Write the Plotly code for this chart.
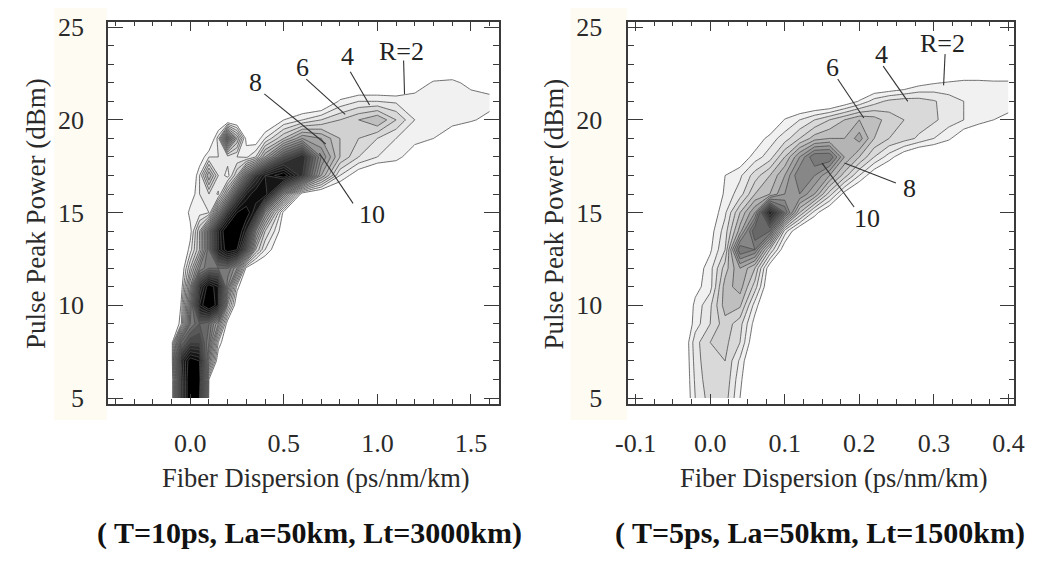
import plotly.graph_objects as go

# ---------------- data ----------------
# Left panel (T=10ps, La=50km, Lt=3000km)
left_x = [-0.15, -0.1, -0.05, 0.0, 0.05, 0.1, 0.15, 0.2, 0.25, 0.3, 0.35, 0.4,
          0.5, 0.6, 0.7, 0.8, 0.9, 1.0, 1.1, 1.2, 1.3, 1.4, 1.5, 1.6]
left_y = [5, 6, 7, 8, 9, 10, 11, 12, 13, 14, 15, 16, 17, 18, 19, 20, 21, 22, 23]
left_z = [
    [0, 0, 16, 22, 20, 1.5, 0, 0, 0, 0, 0, 0, 0, 0, 0, 0, 0, 0, 0, 0, 0, 0, 0, 0],
    [0, 0, 16, 22, 21, 2, 0, 0, 0, 0, 0, 0, 0, 0, 0, 0, 0, 0, 0, 0, 0, 0, 0, 0],
    [0, 0.5, 17, 21, 20, 8, 0.5, 0, 0, 0, 0, 0, 0, 0, 0, 0, 0, 0, 0, 0, 0, 0, 0, 0],
    [0, 1, 12, 15, 15, 11, 3, 0, 0, 0, 0, 0, 0, 0, 0, 0, 0, 0, 0, 0, 0, 0, 0, 0],
    [0, 0, 2.5, 11, 13, 12, 8, 1, 0, 0, 0, 0, 0, 0, 0, 0, 0, 0, 0, 0, 0, 0, 0, 0],
    [0, 0, 2, 10, 19, 22, 19, 6, 0.5, 0, 0, 0, 0, 0, 0, 0, 0, 0, 0, 0, 0, 0, 0, 0],
    [0, 0, 1, 8, 17, 21, 19, 10, 2.5, 0, 0, 0, 0, 0, 0, 0, 0, 0, 0, 0, 0, 0, 0, 0],
    [0, 0, 0.5, 5, 10, 12, 12, 12, 9, 1.5, 0, 0, 0, 0, 0, 0, 0, 0, 0, 0, 0, 0, 0, 0],
    [0, 0, 0, 2.5, 6, 12, 18, 21, 20, 14, 6, 3, 0, 0, 0, 0, 0, 0, 0, 0, 0, 0, 0, 0],
    [0, 0, 0, 1.5, 6, 12, 18, 22, 22, 18, 10, 5, 1, 0, 0, 0, 0, 0, 0, 0, 0, 0, 0, 0],
    [0, 0, 0, 2.5, 2.5, 3, 10, 16, 20, 21, 18, 10, 1.5, 0, 0, 0, 0, 0, 0, 0, 0, 0, 0, 0],
    [0, 0, 0, 1, 3, 4, 2.8, 8, 14, 18, 20, 20, 10, 1, 0, 0, 0, 0, 0, 0, 0, 0, 0, 0],
    [0, 0, 0, 0, 3, 8, 4, 2.5, 6, 12, 16, 19, 21, 16, 8, 3, 1, 0, 0, 0, 0, 0, 0, 0],
    [0, 0, 0, 0, 1, 3, 3, 3.5, 3, 2.8, 4, 8, 14, 17, 10, 6, 4, 3, 2.5, 1, 0, 0, 0, 0],
    [0, 0, 0, 0, 0, 0, 3.5, 13, 7, 1.5, 1, 3, 6, 9, 8, 6, 5, 4, 3, 2.5, 2, 1, 0, 0],
    [0, 0, 0, 0, 0, 0, 0, 0, 0, 0, 0, 0, 2, 3, 4, 5, 6, 7, 5, 3, 2.8, 2.5, 2.2, 1.5],
    [0, 0, 0, 0, 0, 0, 0, 0, 0, 0, 0, 0, 0, 0, 0, 2.2, 3, 3, 2.8, 2.8, 3, 3, 2.8, 2.6],
    [0, 0, 0, 0, 0, 0, 0, 0, 0, 0, 0, 0, 0, 0, 0, 0, 0, 0, 0, 1, 2.2, 2.4, 1.5, 1],
    [0, 0, 0, 0, 0, 0, 0, 0, 0, 0, 0, 0, 0, 0, 0, 0, 0, 0, 0, 0, 0, 0, 0, 0],
]

# Right panel (T=5ps, La=50km, Lt=1500km)
right_x = [-0.04, -0.02, 0.0, 0.02, 0.04, 0.06, 0.08, 0.10, 0.12, 0.14, 0.16, 0.18,
           0.20, 0.22, 0.24, 0.26, 0.28, 0.30, 0.32, 0.34, 0.36, 0.38, 0.40]
right_y = [5, 6, 7, 8, 9, 10, 11, 12, 13, 14, 15, 16, 17, 18, 19, 20, 21, 22, 23]
right_z = [
    [0, 3, 4.5, 4.5, 2, 0, 0, 0, 0, 0, 0, 0, 0, 0, 0, 0, 0, 0, 0, 0, 0, 0, 0],
    [0, 3.2, 4.8, 4.8, 2.3, 0, 0, 0, 0, 0, 0, 0, 0, 0, 0, 0, 0, 0, 0, 0, 0, 0, 0],
    [0, 3.4, 5, 5, 2.8, 0, 0, 0, 0, 0, 0, 0, 0, 0, 0, 0, 0, 0, 0, 0, 0, 0, 0],
    [0, 3.6, 5, 5.3, 4, 0.8, 0, 0, 0, 0, 0, 0, 0, 0, 0, 0, 0, 0, 0, 0, 0, 0, 0],
    [0, 2.5, 4, 5.6, 4.4, 1.5, 0, 0, 0, 0, 0, 0, 0, 0, 0, 0, 0, 0, 0, 0, 0, 0, 0],
    [0, 2.3, 3.8, 6.5, 6.2, 2.5, 0, 0, 0, 0, 0, 0, 0, 0, 0, 0, 0, 0, 0, 0, 0, 0, 0],
    [0, 1.6, 2.6, 6.5, 7.5, 4.5, 0.5, 0, 0, 0, 0, 0, 0, 0, 0, 0, 0, 0, 0, 0, 0, 0, 0],
    [0, 1.2, 2.6, 5.5, 8, 6, 1, 0, 0, 0, 0, 0, 0, 0, 0, 0, 0, 0, 0, 0, 0, 0, 0],
    [0, 0, 1.8, 4, 12, 11, 5, 1, 0, 0, 0, 0, 0, 0, 0, 0, 0, 0, 0, 0, 0, 0, 0],
    [0, 0, 1.5, 3.5, 7.5, 13, 12, 3.5, 0.5, 0, 0, 0, 0, 0, 0, 0, 0, 0, 0, 0, 0, 0, 0],
    [0, 0, 1, 2.8, 6, 9, 18, 12, 6, 2.5, 0.5, 0, 0, 0, 0, 0, 0, 0, 0, 0, 0, 0, 0],
    [0, 0, 0, 2.3, 3.5, 6, 7, 9, 10, 8, 4.5, 1.5, 0, 0, 0, 0, 0, 0, 0, 0, 0, 0, 0],
    [0, 0, 0, 2, 2.8, 4.5, 6, 8, 11, 10, 8, 5.5, 3, 1, 0, 0, 0, 0, 0, 0, 0, 0, 0],
    [0, 0, 0, 0, 1, 2.5, 3.5, 6, 9, 12, 12, 8, 6, 4, 2.5, 1, 0, 0, 0, 0, 0, 0, 0],
    [0, 0, 0, 0, 0, 1, 2.5, 3.5, 5, 6.5, 7, 7, 8.5, 6, 5, 4.5, 3.8, 3, 2.2, 1, 0, 0, 0],
    [0, 0, 0, 0, 0, 0, 0, 2.1, 3, 4, 5, 6, 7, 6.5, 5.5, 5, 4.6, 4.2, 3.5, 3, 2.6, 2, 1.5],
    [0, 0, 0, 0, 0, 0, 0, 0, 0, 0, 0, 1, 2.1, 3.5, 4.3, 4.6, 4.5, 4.1, 3.5, 3, 3, 2.8, 2.8],
    [0, 0, 0, 0, 0, 0, 0, 0, 0, 0, 0, 0, 0, 0, 0, 0.5, 1.5, 1.9, 2.1, 2.3, 2.3, 2.2, 2.2],
    [0, 0, 0, 0, 0, 0, 0, 0, 0, 0, 0, 0, 0, 0, 0, 0, 0, 0, 0, 0, 0, 0, 0],
]

contour_labels = ["R=2", "4", "6", "8", "10"]
y_ticks = [5, 10, 15, 20, 25]
left_x_ticks = [0.0, 0.5, 1.0, 1.5]
left_x_ticktext = ["0.0", "0.5", "1.0", "1.5"]
right_x_ticks = [-0.1, 0.0, 0.1, 0.2, 0.3, 0.4]
right_x_ticktext = ["-0.1", "0.0", "0.1", "0.2", "0.3", "0.4"]
x_title = "Fiber Dispersion (ps/nm/km)"
y_title = "Pulse Peak Power (dBm)"
captions = ["( T=10ps, La=50km, Lt=3000km)", "( T=5ps, La=50km, Lt=1500km)"]

# ---------------- styling ----------------
band_colors = ["#ffffff", "#f1f1f1", "#e8e8e8", "#d9d9d9", "#d1d1d1", "#bfbfbf",
               "#b4b4b4", "#a3a3a3", "#989898", "#878787", "#7a7a7a", "#686868",
               "#595959", "#4a4a4a", "#3c3c3c", "#2e2e2e", "#222222", "#161616",
               "#0c0c0c", "#000000"]
nb = len(band_colors) - 1
colorscale = [[i / nb, c] for i, c in enumerate(band_colors)]

SERIF = "Liberation Serif"
W, H = 1044, 561
fig = go.Figure()

common = dict(autocontour=False,
              contours=dict(start=2, end=20, size=1, coloring="fill", showlines=True),
              colorscale=colorscale, showscale=False,
              line=dict(color="#4d4d4d", width=0.8, smoothing=0),
              hoverinfo="skip")
fig.add_trace(go.Contour(x=left_x, y=left_y, z=left_z, xaxis="x", yaxis="y", **common))
fig.add_trace(go.Contour(x=right_x, y=right_y, z=right_z, xaxis="x2", yaxis="y2", **common))

axcol = "#3a3a3a"
base = dict(showline=True, linecolor=axcol, linewidth=1.5, mirror="ticks",
            ticks="inside", tickcolor=axcol, tickwidth=1.2, showgrid=False,
            zeroline=False, tickfont=dict(family=SERIF, size=26, color="#2a2a2a"))

ydom = [1 - 408 / H, 1 - 14 / H]
fig.update_layout(
    width=W, height=H, margin=dict(l=0, r=0, t=0, b=0),
    paper_bgcolor="white", plot_bgcolor="white", showlegend=False,
    xaxis=dict(base, domain=[97 / W, 497 / W], range=[-0.44, 1.65],
               tickmode="array", tickvals=left_x_ticks, ticktext=left_x_ticktext,
               ticklen=10, ticklabelstandoff=15,
               minor=dict(tickmode="linear", tick0=0, dtick=0.1, ticks="inside",
                          ticklen=5, tickcolor=axcol)),
    yaxis=dict(base, domain=ydom, range=[4.7, 25.3], tickmode="array",
               tickvals=y_ticks, ticklen=15, ticklabelstandoff=17,
               minor=dict(tickmode="linear", tick0=0, dtick=1, ticks="inside",
                          ticklen=6, tickcolor=axcol)),
    xaxis2=dict(base, domain=[629 / W, 1024 / W], range=[-0.11, 0.408], anchor="y2",
                tickmode="array", tickvals=right_x_ticks, ticktext=right_x_ticktext,
                ticklen=10, ticklabelstandoff=15,
                minor=dict(tickmode="linear", tick0=0, dtick=0.025, ticks="inside",
                           ticklen=5, tickcolor=axcol)),
    yaxis2=dict(base, domain=ydom, range=[4.7, 25.3], anchor="x2", tickmode="array",
                tickvals=y_ticks, ticklen=15, ticklabelstandoff=19,
                minor=dict(tickmode="linear", tick0=0, dtick=1, ticks="inside",
                           ticklen=6, tickcolor=axcol)),
)

# faint cream strips behind the y-axis labels (scan tint)
shapes = []
for x0, x1 in [(42, 96), (570, 628)]:
    shapes.append(dict(type="rect", xref="paper", yref="paper", x0=x0 / W, x1=x1 / W,
                       y0=1 - 425 / H, y1=1, fillcolor="#fefbf3", line=dict(width=0),
                       layer="below"))

annotations = []
# axis titles
for cx in [310, 839]:
    annotations.append(dict(text=x_title, xref="paper", yref="paper", x=cx / W, y=1 - 485 / H,
                            showarrow=False, font=dict(family=SERIF, size=26.5, color="#2a2a2a"),
                            xanchor="center", yanchor="middle"))
for cx in [23, 553]:
    annotations.append(dict(text=y_title, xref="paper", yref="paper", x=cx / W, y=1 - 212 / H,
                            showarrow=False, textangle=-90,
                            font=dict(family=SERIF, size=27, color="#2a2a2a"),
                            xanchor="center", yanchor="middle"))
# captions
for cx, txt in zip([303, 825], captions):
    annotations.append(dict(text="<b>" + txt + "</b>", xref="paper", yref="paper",
                            x=cx / W, y=1 - 541 / H, showarrow=False,
                            font=dict(family=SERIF, size=30, color="#111"),
                            xanchor="center", yanchor="middle"))

# contour level labels with leader lines: (text pos), (line start), (line end)
left_lab = [((1.13, 23.7), (1.14, 23.2), (1.145, 21.4)),
            ((0.84, 23.4), (0.855, 22.6), (0.958, 20.8)),
            ((0.60, 22.8), (0.62, 22.2), (0.828, 20.3)),
            ((0.35, 22.0), (0.396, 21.4), (0.724, 18.7)),
            ((0.97, 14.9), (0.87, 15.5), (0.69, 18.2))]
right_lab = [((0.311, 24.1), (0.315, 23.55), (0.313, 21.86)),
             ((0.23, 23.5), (0.232, 22.9), (0.265, 21.0)),
             ((0.164, 22.8), (0.171, 22.2), (0.206, 20.1)),
             ((0.267, 16.3), (0.249, 16.6), (0.18, 17.67)),
             ((0.21, 14.7), (0.193, 15.3), (0.15, 17.67))]
for (xr, yr), labs in [(("x", "y"), left_lab), (("x2", "y2"), right_lab)]:
    for txt, (tp, p0, p1) in zip(contour_labels, labs):
        annotations.append(dict(text=txt, xref=xr, yref=yr, x=tp[0], y=tp[1],
                                showarrow=False, font=dict(family=SERIF, size=26, color="#222"),
                                xanchor="center", yanchor="middle"))
        shapes.append(dict(type="line", xref=xr, yref=yr, x0=p0[0], y0=p0[1],
                           x1=p1[0], y1=p1[1], line=dict(color="#333", width=1.1)))

fig.update_layout(shapes=shapes, annotations=annotations)
fig.write_html("out.html")
